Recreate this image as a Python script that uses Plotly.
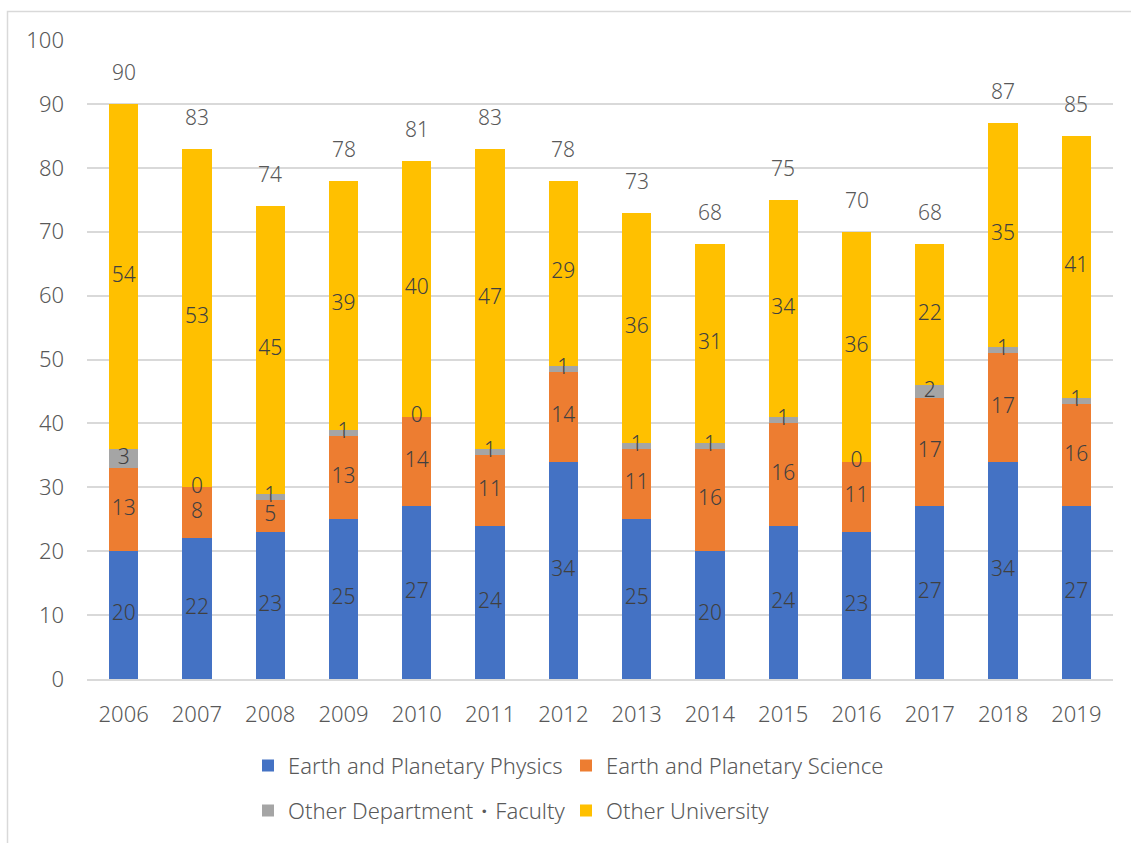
import plotly.graph_objects as go

# Enrolment by origin, stacked per year
years = ["2006", "2007", "2008", "2009", "2010", "2011", "2012",
         "2013", "2014", "2015", "2016", "2017", "2018", "2019"]
earth_planetary_physics = [20, 22, 23, 25, 27, 24, 34, 25, 20, 24, 23, 27, 34, 27]
earth_planetary_science = [13, 8, 5, 13, 14, 11, 14, 11, 16, 16, 11, 17, 17, 16]
other_department = [3, 0, 1, 1, 0, 1, 1, 1, 1, 1, 0, 2, 1, 1]
other_university = [54, 53, 45, 39, 40, 47, 29, 36, 31, 34, 36, 22, 35, 41]
y_ticks = [0, 10, 20, 30, 40, 50, 60, 70, 80, 90, 100]

FONT = "Noto Sans"
WEIGHT = 300
W, H = 1131, 843
ML, MR, MT, MB = 87, 18, 40, 162
PW, PH = W - ML - MR, H - MT - MB


def px_x(p):
    return (p - ML) / PW


def px_y(p):
    return (H - MB - p) / PH


def font(size, color="#595959"):
    return dict(family=FONT, size=size, color=color, weight=WEIGHT)


# name, values, colour, legend id, legend anchor (pixels)
series = [
    ("Earth and Planetary Physics", earth_planetary_physics, "#4472C4", "legend", (248, 768)),
    ("Earth and Planetary Science", earth_planetary_science, "#ED7D31", "legend2", (566, 768)),
    ("Other Department・Faculty", other_department, "#A5A5A5", "legend3", (248, 813)),
    ("Other University", other_university, "#FFC000", "legend4", (566, 813)),
]

fig = go.Figure()

base = [0] * len(years)
label_x, label_y, label_t = [], [], []
for name, vals, color, leg, _ in series:
    fig.add_trace(go.Bar(
        x=years, y=vals, name=name, marker=dict(color=color, line=dict(width=0)),
        legend=leg, hoverinfo="x+y+name",
    ))
    for i, v in enumerate(vals):
        label_x.append(years[i])
        label_y.append(base[i] + v / 2)
        label_t.append(str(v))
        base[i] += v

totals = base

# Segment value labels centred in each segment
fig.add_trace(go.Scatter(
    x=label_x, y=label_y, text=label_t, mode="text",
    textposition="middle center",
    textfont=font(21, "#404040"),
    showlegend=False, hoverinfo="skip",
))

# Totals above each stack (x given as category index)
for i, tot in enumerate(totals):
    fig.add_annotation(
        x=i, y=tot, text=str(tot), showarrow=False, yshift=32,
        font=font(21),
    )

# Chart frame
fig.add_shape(type="rect", xref="paper", yref="paper",
              x0=px_x(7.5), x1=px_x(1150), y0=px_y(860), y1=px_y(11.5),
              line=dict(color="#D9D9D9", width=1.5), fillcolor="rgba(0,0,0,0)",
              layer="below")

legend_common = dict(
    orientation="h", xanchor="left", yanchor="middle",
    font=font(22),
    bgcolor="rgba(0,0,0,0)",
    itemclick=False, itemdoubleclick=False,
)

legends = {}
for _, _, _, leg, (lx, ly) in series:
    legends[leg] = dict(x=px_x(lx), y=px_y(ly), **legend_common)

fig.update_layout(
    width=W, height=H,
    margin=dict(l=ML, r=MR, t=MT, b=MB),
    paper_bgcolor="white", plot_bgcolor="white",
    barmode="stack", bargap=0.6,
    font=font(22),
    xaxis=dict(
        type="category", range=[-0.5, len(years) - 0.5],
        showgrid=False, showline=True, linecolor="#D9D9D9",
        linewidth=1.5, ticks="", tickfont=font(22),
        ticklabelstandoff=15,
    ),
    yaxis=dict(
        range=[0, 100], tickvals=y_ticks, showgrid=True, gridcolor="#D9D9D9",
        gridwidth=1.5, zeroline=False, showline=False, ticks="",
        tickfont=font(22),
        ticklabelstandoff=22,
    ),
    showlegend=True,
    **legends,
)

fig.write_html("out.html")
